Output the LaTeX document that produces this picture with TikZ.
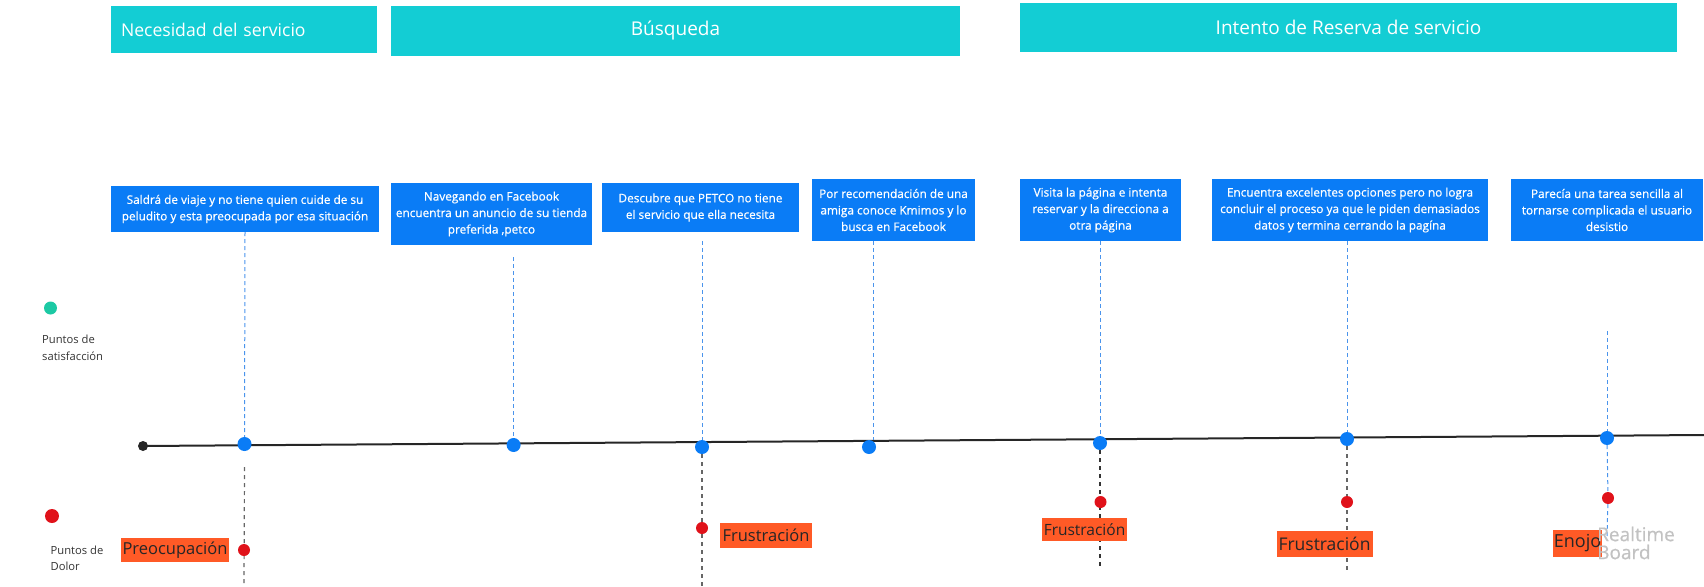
\documentclass[tikz,border=0pt]{standalone}
\usepackage{fontspec}
\setmainfont{Open Sans}
\IfFontExistsTF{Open Sans SemiBold}{\newfontfamily\stepfont{Open Sans SemiBold}}{\newfontfamily\stepfont{Open Sans}[FakeBold=0.6]}
\usepackage{tikz}
\usetikzlibrary{backgrounds}
\definecolor{phasecyan}{HTML}{13CDD4}
\definecolor{stepblue}{HTML}{0A7CF6}
\definecolor{linkblue}{HTML}{4A94EC}
\definecolor{painred}{HTML}{E0121A}
\definecolor{painorange}{HTML}{FF5A26}
\definecolor{joygreen}{HTML}{1CC9A4}
\definecolor{legendgray}{HTML}{333333}

\begin{document}
\begin{tikzpicture}[line cap=butt,line join=round,x=1pt,y=-1pt,
    phase/.style={fill=phasecyan,text=white,inner sep=0pt,font=\fontsize{19}{22}\selectfont},
    stepbox/.style={fill=stepblue,text=white,inner sep=0pt,align=center,font=\stepfont\fontsize{11.8}{16.5}\selectfont},
    okdot/.style={circle,fill=stepblue,inner sep=0pt,minimum size=14pt},
    paindot/.style={circle,fill=painred,inner sep=0pt,minimum size=12pt},
    startdot/.style={circle,fill=black!85,inner sep=0pt,minimum size=10pt},
    painlabel/.style={fill=painorange,text=black!85,inner sep=0pt},
    legendtext/.style={text=legendgray,align=left,anchor=west,inner sep=0pt,font=\fontsize{11.2}{16.5}\selectfont},
    linkline/.style={draw=linkblue,line width=1pt,dash pattern=on 4pt off 3pt},
    downline/.style={draw=black!60,line width=1.2pt,dash pattern=on 4pt off 4pt},
    timeline/.style={draw=black!85,line width=2pt}]
    \useasboundingbox (0,0) rectangle (1704,586);
    \node[phase,minimum width=266pt,minimum height=47pt,text width=246pt,align=left,font=\fontsize{17.6}{20}\selectfont] (necesidad) at (244,29.5) {Necesidad del servicio};
    \node[phase,minimum width=569pt,minimum height=50pt] (busqueda) at (675.5,31) {Búsqueda};
    \node[phase,minimum width=657pt,minimum height=49pt] (reserva) at (1348.5,27.5) {Intento de Reserva de servicio};
    \node[stepbox,minimum width=268pt,minimum height=46pt] (s1) at (245,209) {Saldrá de viaje y no tiene quien cuide de su\\peludito y esta preocupada por esa situación};
    \node[stepbox,minimum width=201pt,minimum height=62pt] (s2) at (491.5,214) {Navegando en Facebook\\encuentra un anuncio de su tienda\\preferida ,petco};
    \node[stepbox,minimum width=197pt,minimum height=49pt] (s3) at (700.5,207.5) {Descubre que PETCO no tiene\\el servicio que ella necesita};
    \node[stepbox,minimum width=163pt,minimum height=62pt] (s4) at (893.5,210) {Por recomendación de una\\amiga conoce Kmimos y lo\\busca en Facebook};
    \node[stepbox,minimum width=161pt,minimum height=62pt] (s5) at (1100.5,210) {Visita la página e intenta\\reservar y la direcciona a\\otra página};
    \node[stepbox,minimum width=276pt,minimum height=62pt] (s6) at (1350,210) {Encuentra excelentes opciones pero no logra\\concluir el proceso ya que le piden demasiados\\datos y termina cerrando la pagína};
    \node[stepbox,minimum width=192pt,minimum height=62pt] (s7) at (1607,210) {Parecía una tarea sencilla al\\tornarse complicada el usuario\\desistio};
    \node[circle,fill=joygreen,inner sep=0pt,minimum size=13pt] (joy) at (50.5,308) {};
    \node[legendtext] (joytext) at (42,348) {Puntos de\\satisfacción};
    \node[circle,fill=painred,inner sep=0pt,minimum size=14pt] (pain) at (52,516) {};
    \node[legendtext] (paintext) at (50.5,558.5) {Puntos de\\Dolor};
    \node[startdot] (start) at (143,446) {};
    \coordinate (lineend) at (1704,435);
    \node[okdot] (d1) at (244.5,444) {};
    \node[okdot] (d2) at (513.6,445) {};
    \node[okdot] (d3) at (702,447) {};
    \node[okdot] (d4) at (869,447) {};
    \node[okdot] (d5) at (1100,443) {};
    \node[okdot] (d6) at (1347,439) {};
    \node[okdot] (d7) at (1607,438) {};
    \node[paindot] (r1) at (244,550) {};
    \node[paindot] (r2) at (702,528) {};
    \node[paindot] (r3) at (1100.5,502) {};
    \node[paindot] (r4) at (1347,502) {};
    \node[paindot] (r5) at (1608,498) {};
    \coordinate (t2) at (513.6,257);
    \coordinate (t3) at (702,241);
    \coordinate (t4) at (873,241);
    \coordinate (t7) at (1607,331);
    \coordinate (e1) at (244,586);
    \coordinate (e3) at (702,586);
    \coordinate (e5) at (1100,567);
    \coordinate (e6) at (1347,573);
    \coordinate (e7) at (1607,537);
    \begin{scope}[on background layer]
        \draw[timeline] (start.center) -- (lineend);
        \draw[linkline] (s1.south) -- (d1);
        \draw[linkline] (t2) -- (d2);
        \draw[linkline] (t3) -- (d3);
        \draw[linkline] (t4) -- (t4 |- d4.north);
        \draw[linkline] (d5 |- s5.south) -- (d5);
        \draw[linkline] (d6 |- s6.south) -- (d6);
        \draw[linkline] (t7) -- (d7);
        \draw[linkline] (d7) -- (r5);
        \draw[linkline] (r5) -- (e7);
        \draw[downline] ([yshift=-16pt]d1.south) -- (e1);
        \draw[downline] (d3) -- (e3);
        \draw[downline,draw=black!80] (d5) -- (e5);
        \draw[downline] (d6) -- (e6);
    \end{scope}
    \node[painlabel,minimum width=108pt,minimum height=24pt,font=\fontsize{16.5}{18}\selectfont] (l1) at (175,550) {Preocupación};
    \node[painlabel,minimum width=92pt,minimum height=25pt,font=\fontsize{16.5}{18}\selectfont] (l2) at (766,535.5) {Frustración};
    \node[painlabel,minimum width=85pt,minimum height=23pt,font=\fontsize{15.5}{18}\selectfont] (l3) at (1084.5,529.5) {Frustración};
    \node[painlabel,minimum width=96pt,minimum height=26pt,font=\fontsize{17.5}{18}\selectfont] (l4) at (1324.5,544) {Frustración};
    \node[painlabel,minimum width=49pt,minimum height=27pt,font=\fontsize{18}{18}\selectfont] (l5) at (1577.5,543.5) {Enojo};
    \node[anchor=west,inner sep=0pt,text=black!24,font=\stepfont\fontsize{19}{18}\selectfont] (wmark1) at (1597,534) {Realtime};
    \node[anchor=west,inner sep=0pt,text=black!24,font=\stepfont\fontsize{19}{18}\selectfont] (wmark2) at (1597,552) {Board};
\end{tikzpicture}
\end{document}
